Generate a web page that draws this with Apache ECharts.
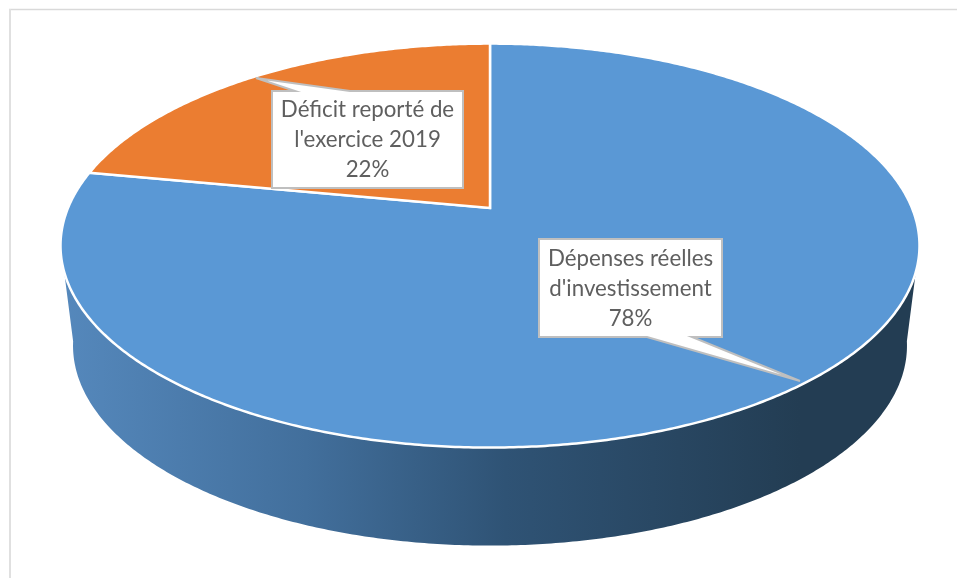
<!DOCTYPE html>
<html>
<head>
<meta charset="utf-8">
<style>html,body{margin:0;padding:0;background:#fff}#c{width:957px;height:578px}</style>
<script src="https://cdn.jsdelivr.net/npm/echarts@6/dist/echarts.min.js"></script>
</head>
<body>
<div id="c"></div>
<script>
const categories = ["Dépenses réelles\nd'investissement", "Déficit reporté de\nl'exercice 2019"];
const shareValues = [78, 22];
const sliceColors = ['#5A98D5', '#EB7D31'];

// perspective view of the pie disc (top face and lower face)
const persp = 0.186;
const topFace = {cx: 490, cy: 208, a: 422, b: 195};
const lowFace = {cx: 490, cy: 308.5, a: 409.7, b: 193};
const calloutLayout = [
  {x0: 539, y0: 239, x1: 722, y1: 337, tip: [800, 381], base: [692, 647], side: 'bottom'},
  {x0: 272, y0: 91, x1: 463, y1: 188, tip: [256, 78], base: [295, 350], side: 'top'}
];

function project(face, deg) {
  const t = deg * Math.PI / 180, u = Math.cos(t), v = Math.sin(t), w = 1 + persp * v;
  return [face.cx + face.a * u / w, face.cy - face.b * v / w];
}
function arc(face, from, to) {
  const n = Math.max(2, Math.ceil(Math.abs(to - from) * 2)), out = [];
  for (let i = 0; i <= n; i++) out.push(project(face, from + (to - from) * i / n));
  return out;
}
const total = shareValues.reduce((a, b) => a + b, 0);
function sliceAngles(i) {
  let before = 0;
  for (let k = 0; k < i; k++) before += shareValues[k];
  return [90 - before / total * 360, 90 - (before + shareValues[i]) / total * 360];
}

const wallSeries = {
  type: 'custom', coordinateSystem: 'none', silent: true, z: 1,
  data: [[1]],
  renderItem() {
    const pts = arc(topFace, 198, 342).reverse().concat(arc(lowFace, 189.5, 350.5));
    return {
      type: 'polygon', shape: {points: pts},
      style: {fill: new echarts.graphic.LinearGradient(63, 0, 800, 0, [
        {offset: 0, color: '#5588BC'},
        {offset: 0.33, color: '#426F9C'},
        {offset: 0.6, color: '#2F5375'},
        {offset: 1, color: '#233D53'}
      ], true)}
    };
  }
};

const sliceSeries = {
  type: 'custom', coordinateSystem: 'none', silent: true, z: 2,
  data: shareValues.map(v => [v]),
  renderItem(params) {
    const i = params.dataIndex, [a, b] = sliceAngles(i);
    const pts = [[topFace.cx, topFace.cy]].concat(arc(topFace, a, b));
    return {
      type: 'polygon', shape: {points: pts},
      style: {fill: sliceColors[i], stroke: '#fff', lineWidth: 2.5, lineJoin: 'miter'}
    };
  }
};

const labelSeries = {
  type: 'custom', coordinateSystem: 'none', silent: true, z: 3,
  data: shareValues.map(v => [v]),
  renderItem(params, api) {
    const i = params.dataIndex, L = calloutLayout[i];
    const pts = L.side === 'top'
      ? [[L.x0, L.y0], [L.base[0], L.y0], L.tip, [L.base[1], L.y0], [L.x1, L.y0], [L.x1, L.y1], [L.x0, L.y1]]
      : [[L.x0, L.y0], [L.x1, L.y0], [L.x1, L.y1], [L.base[0], L.y1], L.tip, [L.base[1], L.y1], [L.x0, L.y1]];
    return {
      type: 'group',
      children: [
        {type: 'polygon', shape: {points: pts}, style: {fill: '#fff', stroke: '#BFBFBF', lineWidth: 2}},
        {type: 'text', style: {
          x: (L.x0 + L.x1) / 2, y: (L.y0 + L.y1) / 2 + 0.5,
          text: categories[i] + '\n' + api.value(0) + '%',
          align: 'center', verticalAlign: 'middle',
          font: '22.3px Lato', lineHeight: 30, fill: '#5F5F5F'
        }}
      ]
    };
  }
};

const chart = echarts.init(document.getElementById('c'), null, {renderer: 'canvas'});
chart.setOption({
  animation: false,
  backgroundColor: '#fff',
  graphic: [
    {type: 'line', shape: {x1: 9, y1: 9.5, x2: 957, y2: 9.5}, style: {stroke: '#D9D9D9', lineWidth: 1.5}},
    {type: 'line', shape: {x1: 10, y1: 9, x2: 10, y2: 578}, style: {stroke: '#E0E0E0', lineWidth: 2}}
  ],
  series: [wallSeries, sliceSeries, labelSeries]
});
</script>
</body>
</html>
